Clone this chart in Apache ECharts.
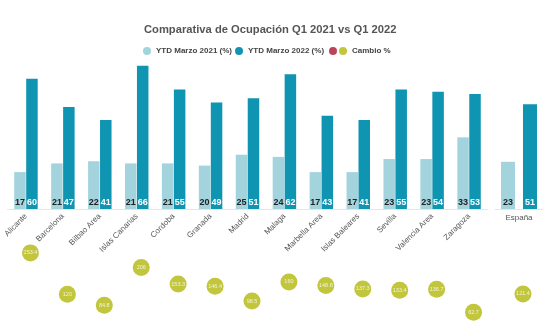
<!DOCTYPE html>
<html>
<head>
<meta charset="utf-8">
<script src="https://cdn.jsdelivr.net/npm/echarts@6/dist/echarts.min.js"></script>
<style>html,body{margin:0;padding:0;background:#fff}#c{width:550px;height:322px}</style>
</head>
<body>
<div id="c"></div>
<script>
const cities = ['Alicante','Barcelona','Bilbao Area','Islas Canarias','Cordoba','Granada','Madrid','Malaga','Marbella Area','Islas Baleares','Sevilla','Valencia Area','Zaragoza'];
const occ2021 = [17,21,22,21,21,20,25,24,17,17,23,23,33];
const occ2022 = [60,47,41,66,55,49,51,62,43,41,55,54,53];
const change = [253.4,120,84.8,206,153.3,146.4,98.5,160,148.8,137.3,133.4,136.7,62.7];
const spainLabel = ['España'];
const spain2021 = [23];
const spain2022 = [51];
const spainChange = [121.4];

const FONT = 'Liberation Sans, Arial, sans-serif';
const C21 = '#a3d4de', C22 = '#0f94b1', CCH = '#b3b80d', CRED = '#a8182e';

const chart = echarts.init(document.getElementById('c'), null, {renderer:'canvas'});
const barLabel = (color) => ({show:true, position:'insideBottom', distance:2, fontSize:9, fontWeight:'bold', color:color, fontFamily:FONT});
const bubbleLabel = {show:true, position:'inside', fontSize:5.5, color:'#fff', fontFamily:FONT, formatter:(p)=>String(p.value)};

chart.setOption({
  animation:false,
  textStyle:{fontFamily:FONT},
  title:{text:'Comparativa de Ocupación Q1 2021 vs Q1 2022', left:144, top:24, padding:0,
    textStyle:{fontSize:11.2, fontWeight:'bold', color:'#555', fontFamily:FONT}},
  legend:[
    {left:143, top:47, padding:0, itemWidth:8, itemHeight:8, itemGap:3, icon:'circle',
     textStyle:{fontSize:8, fontWeight:'bold', color:'#444', fontFamily:FONT},
     data:['YTD Marzo 2021 (%)','YTD Marzo 2022 (%)']},
    {left:329, top:47, padding:0, itemWidth:8, itemHeight:8, itemGap:-3, icon:'circle',
     textStyle:{fontSize:8, fontWeight:'bold', color:'#444', fontFamily:FONT},
     data:['\u200b','Cambio %']}
  ],
  grid:[
    {left:7.5, width:480, top:57, height:152},
    {left:495, width:48, top:57, height:152},
    {left:12, width:480, top:238.4, bottom:0},
    {left:499, width:48, top:238.4, bottom:0}
  ],
  xAxis:[
    {type:'category', gridIndex:0, data:cities, axisTick:{show:false},
     axisLine:{lineStyle:{color:'#e6e6e6'}},
     axisLabel:{rotate:45, fontSize:8, color:'#555', margin:6, interval:0, fontFamily:FONT}},
    {type:'category', gridIndex:1, data:spainLabel, axisTick:{show:false},
     axisLine:{lineStyle:{color:'#e6e6e6'}},
     axisLabel:{fontSize:8, color:'#555', margin:5, fontFamily:FONT}},
    {type:'category', gridIndex:2, data:cities, show:false},
    {type:'category', gridIndex:3, data:spainLabel, show:false}
  ],
  yAxis:[
    {type:'value', gridIndex:0, min:0, max:70, show:false},
    {type:'value', gridIndex:1, min:0, max:74, show:false},
    {type:'value', gridIndex:2, min:31, max:300, show:false},
    {type:'value', gridIndex:3, min:31, max:300, show:false}
  ],
  series:[
    {name:'YTD Marzo 2021 (%)', type:'bar', xAxisIndex:0, yAxisIndex:0, data:occ2021,
     barWidth:11.5, barGap:'4%', itemStyle:{color:C21}, label:barLabel('#222')},
    {name:'YTD Marzo 2022 (%)', type:'bar', xAxisIndex:0, yAxisIndex:0, data:occ2022,
     barWidth:11.5, barGap:'4%', itemStyle:{color:C22}, label:barLabel('#fff')},
    {name:'YTD Marzo 2021 (%)', type:'bar', xAxisIndex:1, yAxisIndex:1, data:spain2021,
     barWidth:14, barGap:'57%', itemStyle:{color:C21}, label:barLabel('#222')},
    {name:'YTD Marzo 2022 (%)', type:'bar', xAxisIndex:1, yAxisIndex:1, data:spain2022,
     barWidth:14, barGap:'57%', itemStyle:{color:C22}, label:barLabel('#fff')},
    {name:'\u200b', type:'scatter', xAxisIndex:2, yAxisIndex:2, data:[], itemStyle:{color:CRED}},
    {name:'Cambio %', type:'scatter', xAxisIndex:2, yAxisIndex:2, data:change, clip:false,
     symbolSize:17, itemStyle:{color:CCH}, label:bubbleLabel},
    {name:'Cambio %', type:'scatter', xAxisIndex:3, yAxisIndex:3, data:spainChange, clip:false,
     symbolSize:17, itemStyle:{color:CCH}, label:bubbleLabel}
  ]
});
</script>
</body>
</html>
